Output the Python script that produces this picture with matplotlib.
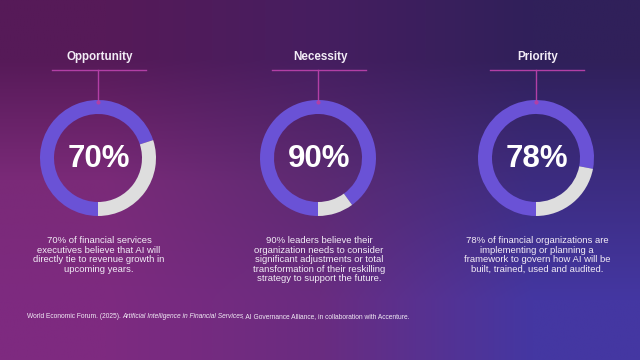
import matplotlib.pyplot as plt
import numpy as np
from matplotlib.colors import to_rgb

plt.rcParams['font.family'] = ['Liberation Sans', 'DejaVu Sans']

# data
titles = ['Opportunity', 'Necessity', 'Priority']
shares = [70, 90, 78]
notes = [
    '70% of financial services\nexecutives believe that AI will\ndirectly tie to revenue growth in\nupcoming years.',
    '90% leaders believe their\norganization needs to consider\nsignificant adjustments or total\ntransformation of their reskilling\nstrategy to support the future.',
    '78% of financial organizations are\nimplementing or planning a\nframework to govern how AI will be\nbuilt, trained, used and audited.',
]
source_parts = [
    ('World Economic Forum. (2025). ', 'normal'),
    ('Artificial Intelligence in Financial Services', 'italic'),
    ('. AI Governance Alliance, in collaboration with Accenture.', 'normal'),
]

ring_col = '#6a52d6'
rest_col = '#dedede'
line_col = '#b23fa6'
text_col = '#f2ecf6'

fig = plt.figure(figsize=(6.4, 3.6), dpi=100)
ax = fig.add_axes([0, 0, 1, 1])

# background gradient (3x3 corner colours, bilinear)
grid = [['#561a58', '#461e60', '#30205a'],
        ['#7a2a78', '#5c2a72', '#3c2c80'],
        ['#7e2a80', '#6a2c80', '#4437a2']]
bg = np.array([[to_rgb(c) for c in row] for row in grid])
ax.imshow(bg, extent=(0, 640, 0, 360), origin='upper', interpolation='bilinear',
          aspect='auto', zorder=0)

centers_x = [98, 318, 536]
cy = 202
r = 58
for cx, title, pct, note in zip(centers_x, titles, shares, notes):
    ax.pie([pct, 100 - pct], colors=[ring_col, rest_col], startangle=270,
           counterclock=False, center=(cx, cy), radius=r,
           wedgeprops=dict(width=14, linewidth=0))
    ax.text(cx + 1, cy - 1, f'{pct}%', ha='center', va='center', fontsize=22.5,
            fontweight='bold', color='white', zorder=5)
    ax.text(cx + 2, 303, title, ha='center', va='center', fontsize=8.4,
            fontweight='bold', color=text_col, zorder=5)
    ax.plot([cx - 46, cx + 48], [290, 290], color=line_col, lw=1, zorder=4)
    ax.plot([cx, cx], [290, 258], color=line_col, lw=1, zorder=4)
    ax.plot([cx], [258], marker='o', ms=2, color=line_col, zorder=4)
    ax.text(cx + 1, 124, note, ha='center', va='top', fontsize=6.8,
            color=text_col, linespacing=1.08, zorder=5)

ax.set_xlim(0, 640)
ax.set_ylim(0, 360)
ax.set_aspect('auto')
ax.axis('off')

# source line with italic title
fig.canvas.draw()
renderer = fig.canvas.get_renderer()
x = 27
for s, style in source_parts:
    t = ax.text(x, 42, s, fontsize=4.8, style=style, color=text_col,
                ha='left', va='baseline', zorder=5)
    bb = t.get_window_extent(renderer)
    x += bb.width - (2.5 if style == 'italic' else 0)

fig.savefig('out.png', dpi=100)
